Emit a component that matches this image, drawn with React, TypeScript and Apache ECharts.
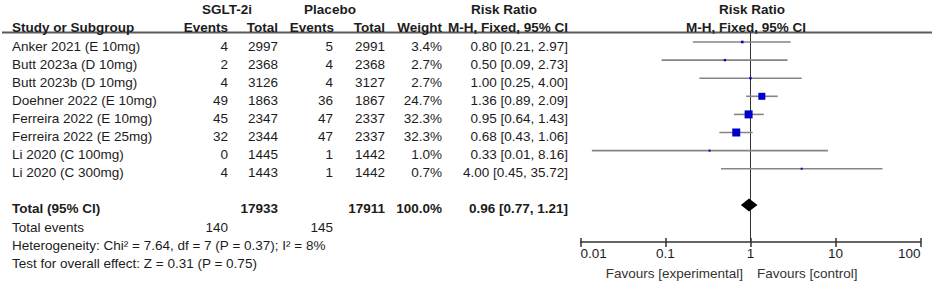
import { useEffect, useRef } from "react";
import * as echarts from "echarts";

// ---------- data ----------
const studies = [
  "Anker 2021 (E 10mg)",
  "Butt 2023a (D 10mg)",
  "Butt 2023b (D 10mg)",
  "Doehner 2022 (E 10mg)",
  "Ferreira 2022 (E 10mg)",
  "Ferreira 2022 (E 25mg)",
  "Li 2020 (C 100mg)",
  "Li 2020 (C 300mg)",
];
const sgltEvents = [4, 2, 4, 49, 45, 32, 0, 4];
const sgltTotal = [2997, 2368, 3126, 1863, 2347, 2344, 1445, 1443];
const placeboEvents = [5, 4, 4, 36, 47, 47, 1, 1];
const placeboTotal = [2991, 2368, 3127, 1867, 2337, 2337, 1442, 1442];
const weights = [3.4, 2.7, 2.7, 24.7, 32.3, 32.3, 1.0, 0.7];
const riskRatio = [0.8, 0.5, 1.0, 1.36, 0.95, 0.68, 0.33, 4.0];
const ciLow = [0.21, 0.09, 0.25, 0.89, 0.64, 0.43, 0.0136, 0.45];
const ciHigh = [2.97, 2.73, 4.0, 2.09, 1.43, 1.06, 8.16, 35.72];

const totalSglt = 17933;
const totalPlacebo = 17911;
const totalWeight = 100.0;
const totalEventsSglt = 140;
const totalEventsPlacebo = 145;
const pooledRR = 0.96;
const pooledLow = 0.77;
const pooledHigh = 1.21;
const heterogeneityText = "Heterogeneity: Chi\u00b2 = 7.64, df = 7 (P = 0.37); I\u00b2 = 8%";
const overallEffectText = "Test for overall effect: Z = 0.31 (P = 0.75)";

const axisTicks = [0.01, 0.1, 1, 10, 100];

// ---------- layout ----------
const FONT = "'Liberation Sans', Arial, sans-serif";
const FS = 13.5;
const TEXT = "#1c1c1c";
const Y_MIN = -0.5525;
const Y_MAX = 11.0497;

type Cell = { x: number; text: string; align: "left" | "right" | "center"; bold?: boolean };
const COL = { name: 12, sEv: 228, sTot: 278, pEv: 333, pTot: 385, w: 442, ci: 568 };

const fmt2 = (v: number) => v.toFixed(2);
const ciText = (rr: number, lo: number, hi: number) => `${fmt2(rr)} [${fmt2(lo)}, ${fmt2(hi)}]`;

const tableRows: { r: number; cells: Cell[] }[] = [];
tableRows.push({
  r: -2,
  cells: [
    { x: 227, text: "SGLT-2i", align: "center", bold: true },
    { x: 330, text: "Placebo", align: "center", bold: true },
    { x: 504, text: "Risk Ratio", align: "center", bold: true },
    { x: 752, text: "Risk Ratio", align: "center", bold: true },
  ],
});
tableRows.push({
  r: -1,
  cells: [
    { x: COL.name, text: "Study or Subgroup", align: "left", bold: true },
    { x: COL.sEv, text: "Events", align: "right", bold: true },
    { x: COL.sTot, text: "Total", align: "right", bold: true },
    { x: COL.pEv + 1, text: "Events", align: "right", bold: true },
    { x: COL.pTot, text: "Total", align: "right", bold: true },
    { x: COL.w, text: "Weight", align: "right", bold: true },
    { x: COL.ci, text: "M-H, Fixed, 95% CI", align: "right", bold: true },
    { x: 746, text: "M-H, Fixed, 95% CI", align: "center", bold: true },
  ],
});
studies.forEach((s, i) => {
  tableRows.push({
    r: i,
    cells: [
      { x: COL.name, text: s, align: "left" },
      { x: COL.sEv, text: String(sgltEvents[i]), align: "right" },
      { x: COL.sTot, text: String(sgltTotal[i]), align: "right" },
      { x: COL.pEv, text: String(placeboEvents[i]), align: "right" },
      { x: COL.pTot, text: String(placeboTotal[i]), align: "right" },
      { x: COL.w, text: weights[i].toFixed(1) + "%", align: "right" },
      { x: COL.ci, text: ciText(riskRatio[i], ciLow[i], ciHigh[i]), align: "right" },
    ],
  });
});
tableRows.push({
  r: 9,
  cells: [
    { x: COL.name, text: "Total (95% CI)", align: "left", bold: true },
    { x: COL.sTot, text: String(totalSglt), align: "right", bold: true },
    { x: COL.pTot, text: String(totalPlacebo), align: "right", bold: true },
    { x: COL.w, text: totalWeight.toFixed(1) + "%", align: "right", bold: true },
    { x: COL.ci, text: ciText(pooledRR, pooledLow, pooledHigh), align: "right", bold: true },
  ],
});
tableRows.push({
  r: 10,
  cells: [
    { x: COL.name, text: "Total events", align: "left" },
    { x: COL.sEv, text: String(totalEventsSglt), align: "right" },
    { x: COL.pEv, text: String(totalEventsPlacebo), align: "right" },
  ],
});
tableRows.push({ r: 11, cells: [{ x: COL.name, text: heterogeneityText, align: "left" }] });
tableRows.push({ r: 12, cells: [{ x: COL.name, text: overallEffectText, align: "left" }] });

export default function App() {
  const ref = useRef<HTMLDivElement>(null);
  useEffect(() => {
    if (!ref.current) return;
    const chart = echarts.init(ref.current, undefined, { renderer: "svg" });
    const option: any = {
      animation: false,
      backgroundColor: "#ffffff",
      grid: { left: 580.5, right: 13.5, top: 32, bottom: 41, containLabel: false },
      xAxis: [
        {
          type: "log",
          logBase: 10,
          min: axisTicks[0],
          max: axisTicks[axisTicks.length - 1],
          splitNumber: 4,
          position: "bottom",
          axisLine: { show: true, onZero: false, lineStyle: { color: "#333", width: 1.5 } },
          axisTick: { show: true, inside: false, length: 5, lineStyle: { color: "#333", width: 1.5 } },
          axisLabel: {
            show: true,
            margin: 4,
            color: TEXT,
            fontFamily: FONT,
            fontSize: FS,
            alignMinLabel: "left",
            alignMaxLabel: "right",
            formatter: (v: number) => String(+Number(v).toPrecision(6)),
          },
          splitLine: { show: false },
        },
        {
          type: "log",
          logBase: 10,
          min: axisTicks[0],
          max: axisTicks[axisTicks.length - 1],
          splitNumber: 4,
          position: "bottom",
          offset: 0,
          axisLine: { show: false, onZero: false },
          axisTick: { show: true, inside: true, length: 4, lineStyle: { color: "#333", width: 1.5 } },
          axisLabel: { show: false },
          splitLine: { show: false },
        },
      ],
      yAxis: {
        type: "value",
        inverse: true,
        min: Y_MIN,
        max: Y_MAX,
        show: false,
        splitLine: { show: false },
      },
      graphic: [
        {
          type: "line",
          shape: { x1: 2, y1: 32.5, x2: 932, y2: 32.5 },
          style: { stroke: "#5a5a5a", lineWidth: 2 },
          silent: true,
        },
        {
          type: "text",
          x: 743,
          y: 273,
          style: {
            text: "Favours [experimental]",
            fill: "#333",
            font: `${FS}px ${FONT}`,
            align: "right",
            verticalAlign: "middle",
          },
        },
        {
          type: "text",
          x: 757,
          y: 273,
          style: {
            text: "Favours [control]",
            fill: "#333",
            font: `${FS}px ${FONT}`,
            align: "left",
            verticalAlign: "middle",
          },
        },
      ],
      series: [
        {
          type: "line",
          name: "null",
          data: [
            [1, Y_MIN],
            [1, Y_MAX],
          ],
          symbol: "none",
          lineStyle: { color: "#333", width: 1 },
          silent: true,
          z: 1,
        },
        {
          type: "custom",
          name: "studies",
          clip: false,
          silent: true,
          z: 3,
          encode: { x: 0, y: 1 },
          data: studies.map((_, i) => [riskRatio[i], i, ciLow[i], ciHigh[i], weights[i]]),
          renderItem: (_params: any, api: any) => {
            const r = api.value(1);
            const p = api.coord([api.value(0), r]);
            const lo = api.coord([api.value(2), r]);
            const hi = api.coord([api.value(3), r]);
            const s = Math.max(2, 8 * Math.sqrt(api.value(4) / 32.3));
            return {
              type: "group",
              children: [
                {
                  type: "line",
                  shape: { x1: lo[0], y1: lo[1], x2: hi[0], y2: hi[1] },
                  style: { stroke: "#858585", lineWidth: 1.6 },
                },
                {
                  type: "rect",
                  shape: { x: p[0] - s / 2, y: p[1] - s / 2, width: s, height: s },
                  style: { fill: "#0000cc" },
                },
              ],
            };
          },
        },
        {
          type: "custom",
          name: "pooled",
          clip: false,
          silent: true,
          z: 4,
          encode: { x: 0, y: 1 },
          data: [[pooledRR, 9, pooledLow, pooledHigh]],
          renderItem: (_params: any, api: any) => {
            const r = api.value(1);
            const p = api.coord([api.value(0), r]);
            const lo = api.coord([api.value(2), r]);
            const hi = api.coord([api.value(3), r]);
            const h = 6.5;
            return {
              type: "polygon",
              shape: {
                points: [
                  [lo[0], p[1]],
                  [p[0], p[1] - h],
                  [hi[0], p[1]],
                  [p[0], p[1] + h],
                ],
              },
              style: { fill: "#000" },
            };
          },
        },
        {
          type: "custom",
          name: "table",
          clip: false,
          silent: true,
          z: 5,
          encode: { x: 0, y: 1 },
          data: tableRows.map((row) => [1, row.r]),
          renderItem: (params: any, api: any) => {
            const row = tableRows[params.dataIndex];
            const y = api.coord([1, api.value(1)])[1] + 4;
            return {
              type: "group",
              children: row.cells.map((c) => ({
                type: "text",
                x: c.x,
                y,
                style: {
                  text: c.text,
                  fill: TEXT,
                  font: `${c.bold ? "bold " : ""}${FS}px ${FONT}`,
                  align: c.align,
                  verticalAlign: "middle",
                },
              })),
            };
          },
        },
      ],
    };
    chart.setOption(option);
    return () => chart.dispose();
  }, []);
  return (
    <div
      ref={ref}
      style={{ position: "fixed", left: 0, top: 0, width: 934, height: 283, background: "#fff" }}
    />
  );
}
